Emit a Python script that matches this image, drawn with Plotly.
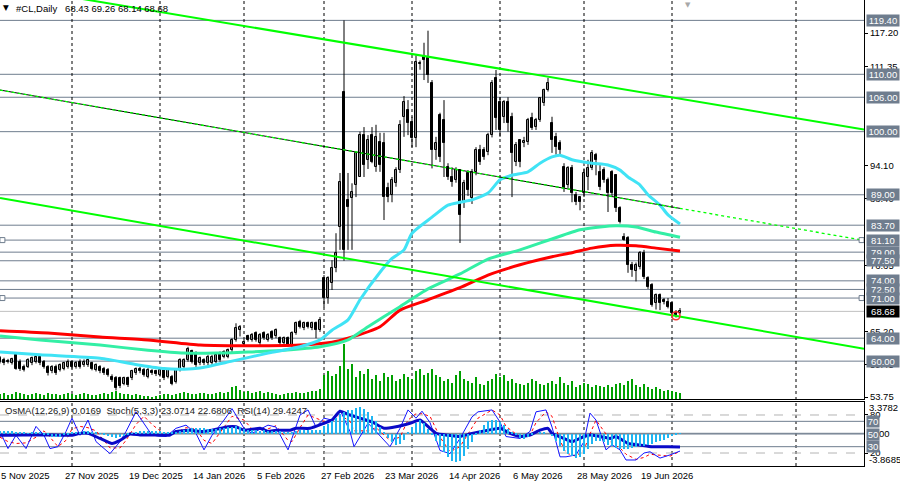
import plotly.graph_objects as go

# ---------------- data ----------------
date_labels = ["5 Nov 2025", "27 Nov 2025", "19 Dec 2025", "14 Jan 2026", "5 Feb 2026",
               "27 Feb 2026", "23 Mar 2026", "14 Apr 2026", "6 May 2026", "28 May 2026", "19 Jun 2026"]
date_label_bars = [0, 16, 32, 48, 64, 80, 96, 112, 128, 144, 160]
month_start_bars = [18, 40, 61, 81, 103, 125, 146, 168, 199]

opens = [60.5, 60.2, 60.0, 59.7, 61.1, 59.9, 59.0, 59.0, 59.6, 59.9,
         60.8, 59.9, 59.0, 58.2, 59.0, 58.5, 58.7, 59.0, 59.9, 59.0,
         59.9, 59.3, 59.3, 59.6, 58.5, 59.0, 58.7, 58.5, 57.3, 57.0,
         57.0, 56.1, 57.0, 57.0, 57.9, 58.7, 58.5, 57.3, 58.3, 58.2,
         57.6, 58.5, 57.3, 57.3, 56.4, 58.5, 59.0, 60.2, 61.7, 61.4,
         59.6, 60.2, 59.6, 59.6, 59.9, 61.4, 60.8, 60.8, 61.9, 63.7,
         65.4, 63.0, 64.3, 63.7, 64.9, 63.1, 64.9, 63.7, 65.1, 64.3,
         64.0, 63.1, 64.0, 62.8, 64.9, 66.9, 65.7, 66.6, 65.7, 66.6,
         65.4, 74.5, 71.0, 73.6, 76.2, 83.4, 106.9, 88.1, 88.4, 90.7,
         92.1, 99.4, 95.1, 99.4, 93.9, 98.2, 98.0, 90.2, 89.0, 91.1,
         93.3, 102.6, 103.8, 101.7, 98.9, 111.8, 113.0, 112.8, 108.5, 96.8,
         102.9, 102.0, 93.8, 92.1, 91.6, 93.3, 87.7, 92.8, 88.4, 93.0,
         96.8, 96.8, 96.5, 99.4, 109.4, 105.2, 102.6, 105.2, 102.6, 94.7,
         98.5, 98.1, 98.2, 102.4, 100.8, 102.0, 105.0, 107.3, 101.5, 99.1,
         98.0, 93.8, 90.7, 93.6, 89.0, 88.6, 89.3, 92.1, 93.6, 95.9,
         93.0, 93.3, 91.6, 93.0, 92.4, 86.7, 81.6, 81.5, 76.8, 75.7,
         76.4, 78.9, 74.5, 73.3, 70.1, 71.5, 70.6, 70.3, 70.1, 68.4, 68.43]
highs = [60.9, 60.6, 60.4, 60.6, 61.5, 60.3, 59.4, 60.5, 60.8, 61.4,
         61.1, 60.2, 59.3, 59.3, 59.4, 59.6, 59.9, 60.3, 60.2, 60.0,
         60.3, 60.3, 60.5, 59.9, 59.6, 59.3, 59.0, 58.8, 57.7, 57.4,
         57.3, 57.3, 57.3, 58.5, 58.9, 59.0, 58.8, 58.8, 58.6, 58.5,
         58.8, 58.8, 58.8, 57.6, 58.8, 60.5, 60.5, 62.5, 62.0, 61.7,
         60.8, 60.5, 61.1, 61.1, 61.4, 61.7, 61.9, 62.2, 64.0, 66.6,
         66.3, 63.7, 64.6, 64.9, 65.2, 64.9, 65.2, 64.9, 65.4, 65.7,
         64.3, 64.3, 64.3, 65.2, 66.9, 67.2, 66.9, 66.9, 66.9, 66.9,
         67.7, 75.0, 74.8, 77.6, 82.3, 92.8, 119.4, 92.8, 91.0, 96.5,
         100.0, 100.8, 99.4, 100.8, 101.2, 99.8, 99.8, 91.1, 92.1, 93.8,
         102.0, 106.2, 105.5, 102.6, 113.3, 112.4, 115.5, 117.6, 109.0, 99.1,
         103.3, 105.5, 94.5, 93.8, 93.8, 93.3, 91.6, 93.3, 93.5, 97.3,
         97.7, 97.3, 99.8, 109.0, 110.75, 106.0, 105.5, 106.0, 103.3, 98.2,
         98.5, 99.1, 102.4, 103.3, 102.4, 106.0, 107.5, 109.4, 102.6, 99.8,
         98.5, 94.5, 94.0, 94.2, 89.5, 88.6, 93.6, 95.1, 96.8, 96.3,
         94.5, 93.8, 92.0, 93.3, 92.6, 87.0, 82.3, 81.8, 77.3, 77.2,
         79.2, 79.4, 74.8, 73.6, 71.8, 71.8, 71.0, 71.0, 70.2, 68.9, 69.26]
lows = [59.6, 59.3, 59.6, 59.4, 58.5, 58.3, 58.2, 58.8, 59.3, 59.6,
        59.3, 58.7, 57.5, 57.9, 57.6, 58.2, 58.4, 58.7, 58.7, 58.7,
        58.7, 59.0, 59.0, 58.4, 58.2, 57.9, 57.6, 57.3, 56.4, 54.9,
        55.3, 55.8, 55.5, 56.7, 57.6, 57.9, 57.3, 57.0, 57.6, 57.4,
        57.3, 56.7, 57.0, 55.8, 56.1, 58.2, 58.7, 59.9, 59.6, 59.0,
        59.3, 59.3, 59.3, 59.3, 59.6, 59.9, 60.5, 60.5, 61.6, 63.4,
        64.3, 62.5, 63.4, 63.4, 63.4, 62.8, 63.7, 63.4, 63.7, 64.0,
        62.8, 62.8, 62.5, 62.5, 64.6, 65.7, 65.4, 65.7, 65.4, 64.0,
        65.1, 69.4, 70.0, 72.4, 75.5, 79.4, 77.5, 79.4, 79.4, 88.6,
        92.1, 92.1, 93.5, 94.5, 93.0, 93.0, 84.6, 87.7, 87.7, 90.4,
        92.8, 99.1, 99.4, 97.3, 97.3, 110.8, 109.0, 108.5, 93.6, 95.1,
        94.7, 92.1, 91.6, 90.4, 91.1, 80.6, 86.7, 88.8, 87.4, 92.4,
        94.2, 95.1, 95.9, 99.0, 100.3, 99.1, 101.5, 100.0, 88.6, 94.0,
        93.8, 97.3, 97.7, 100.3, 100.3, 101.7, 104.5, 107.0, 96.3, 96.0,
        95.9, 89.5, 90.2, 87.7, 87.2, 86.3, 88.6, 89.8, 93.3, 92.4,
        89.8, 91.1, 86.0, 88.8, 86.0, 84.0, 81.0, 75.4, 74.7, 73.9,
        76.0, 74.3, 72.6, 69.5, 69.0, 68.9, 69.9, 69.2, 67.5, 67.6, 68.14]
closes = [59.9, 59.6, 59.9, 60.3, 58.7, 58.6, 58.5, 60.2, 60.5, 60.8,
          59.6, 59.0, 57.9, 59.0, 57.9, 59.3, 59.6, 59.9, 59.0, 59.7,
          59.0, 59.9, 60.2, 58.7, 59.3, 58.2, 57.9, 57.6, 56.7, 55.3,
          55.6, 57.0, 55.8, 58.2, 58.6, 58.2, 57.6, 58.5, 57.9, 57.7,
          58.5, 57.0, 58.5, 56.1, 58.5, 60.2, 60.2, 62.2, 59.9, 59.3,
          60.5, 59.6, 60.8, 60.8, 61.1, 60.2, 61.6, 61.9, 63.7, 65.7,
          66.0, 63.4, 63.7, 64.6, 63.7, 64.6, 64.0, 64.6, 64.0, 65.4,
          63.1, 64.0, 62.8, 64.9, 66.6, 66.0, 66.6, 66.0, 66.6, 65.4,
          67.2, 71.0, 74.5, 76.2, 78.9, 91.2, 79.4, 86.9, 89.5, 96.3,
          99.4, 94.2, 98.6, 94.7, 99.1, 94.2, 88.6, 88.6, 91.6, 93.3,
          101.2, 105.2, 101.5, 98.9, 112.1, 112.0, 112.5, 109.9, 96.8, 98.0,
          95.6, 98.0, 92.1, 91.2, 93.3, 85.5, 91.1, 89.8, 93.0, 96.8,
          94.7, 95.6, 99.4, 108.5, 102.4, 100.3, 105.2, 101.5, 96.3, 97.7,
          94.7, 98.3, 102.0, 100.6, 102.0, 105.9, 107.3, 108.5, 98.5, 97.3,
          96.8, 90.2, 93.6, 89.3, 87.7, 87.7, 92.8, 93.6, 96.3, 95.1,
          90.4, 91.6, 89.3, 89.3, 86.7, 84.3, 81.2, 76.8, 75.9, 76.8,
          78.9, 74.7, 72.9, 69.8, 71.5, 70.1, 70.3, 69.4, 68.4, 68.0, 68.68]
volume_k = [25, 30, 20, 25, 35, 30, 25, 20, 25, 30, 25, 20, 30, 25, 25, 20, 25, 30,
            25, 20, 25, 30, 25, 20, 20, 25, 30, 25, 35, 40, 30, 25, 25, 20, 25, 20, 15, 15, 10, 15, 20,
            25, 25, 20, 25, 30, 35, 30, 25, 25, 30, 30, 25, 25, 30, 35, 30, 35,
            60, 65, 45, 35, 40, 30, 35, 40, 30, 35, 30, 25, 20, 25, 30, 30, 35, 30, 30, 35, 40, 40, 50,
            120, 140, 115, 125, 165, 275, 150, 175, 110, 140, 125, 150, 100, 120, 90, 130, 110, 120, 90, 100,
            125, 110, 100, 140, 150, 120, 130, 150, 120, 110, 90, 100, 80, 120, 140, 100, 90, 80, 110, 75, 70, 90, 100, 125, 110,
            120, 90, 100, 80, 75, 70, 80, 100, 90, 75, 70, 80, 90, 75, 110, 80, 70, 90, 60, 70, 80, 75, 60, 70, 65,
            60, 70, 60, 75, 80, 70, 90, 100, 70, 60, 75, 60, 50, 60, 50, 40, 45, 40, 35, 30]

ma_fast_bars = [0, 10, 25, 35, 41, 46, 50, 58, 67, 75, 80, 83, 87, 90, 95, 98, 101, 103, 108, 112,
                115, 118, 122, 125, 128, 132, 135, 138, 140, 143, 148, 152, 155, 157, 160, 162, 165, 167, 170]
ma_fast = [61.6, 61.1, 60.5, 59.3, 58.7, 58.6, 58.8, 60.0, 61.4, 62.5, 63.7, 65.4, 67.2, 70.7, 75.5, 77.9, 79.4, 82.3, 85.1, 87.2,
           87.7, 88.1, 89.3, 91.6, 92.4, 93.0, 94.5, 95.6, 95.9, 95.1, 94.5, 94.2, 93.3, 92.1, 90.7, 89.0, 87.2, 85.5, 83.9]
ma_mid_bars = [0, 10, 25, 37, 46, 54, 62, 71, 80, 87, 92, 100, 107, 115, 122, 130, 138, 145, 150, 154, 159, 164, 170]
ma_mid = [64.4, 63.7, 62.8, 61.9, 61.4, 61.4, 61.6, 61.9, 62.5, 63.7, 66.0, 69.5, 72.6, 75.2, 77.8, 79.4, 81.3, 82.9, 83.4, 83.6, 83.4, 82.5, 81.6]
ma_slow_bars = [0, 12, 25, 37, 50, 58, 67, 75, 83, 87, 95, 100, 107, 115, 122, 130, 138, 143, 148, 154, 159, 164, 170]
ma_slow = [65.3, 64.9, 64.2, 63.7, 62.8, 62.7, 62.7, 62.8, 63.3, 64.0, 66.0, 68.9, 70.7, 72.8, 75.0, 76.8, 78.2, 78.9, 79.7, 80.2, 80.1, 79.7, 79.2]

upper_channel_bars = [0, 216]
upper_channel = [125.53, 100.38]
mid_line_bars = [0, 216]
mid_line = [107.26, 81.05]
mid_solid_bars = [0, 170]
mid_solid = [107.26, 86.63]
lower_channel_bars = [0, 216]
lower_channel = [88.44, 62.16]

level_prices = [119.40, 110.00, 106.00, 100.00, 89.00, 83.70, 81.10, 79.00, 77.50, 74.00, 72.50, 71.00, 64.00, 60.00]
marked_levels = [81.10, 71.00]
bid_price = 68.68
price_ticks = [117.20, 111.35, 94.10, 88.40, 76.65, 65.20, 59.45, 53.75]

osma = [0.3, 0.35, 0.35, 0.3, 0.25, 0.2,
        0.1, 0.05, 0.1, 0.15, 0.1,
        -0.1, -0.2, -0.35, -0.4, -0.35, -0.2, -0.05,
        0.1, 0.2, 0.25, 0.3, 0.3, 0.25, 0.2,
        0.05, -0.1, -0.25, -0.35, -0.45, -0.4, -0.3, -0.15,
        0.05, 0.2, 0.3, 0.35, 0.35, 0.35, 0.3, 0.3, 0.25, 0.15,
        0.1, 0.15,
        0.3, 0.45, 0.6, 0.7, 0.75, 0.75, 0.65, 0.55, 0.55, 0.6, 0.7, 0.75, 0.8,
        0.85, 0.9, 0.8, 0.6, 0.45, 0.4, 0.4, 0.35, 0.4, 0.35, 0.3, 0.3, 0.3, 0.25, 0.2, 0.25, 0.35, 0.45, 0.5, 0.5, 0.5, 0.45, 0.5,
        0.9, 1.2, 1.5, 1.9, 2.4, 2.6, 2.8, 2.9, 3.1, 3.2, 3.0, 2.6, 2.1, 1.5,
        0.8, 0.1, -0.5, -1.0, -1.3, -1.2, -0.7, 0.1,
        0.8, 1.3, 1.6, 1.3, 0.6,
        -0.2, -0.8, -1.5, -2.2, -2.8, -3.2, -3.4, -3.2, -2.6, -1.8, -1.0,
        -0.2, 0.5, 1.0, 1.5, 1.7, 1.6, 1.4, 1.0, 0.6, 0.2,
        -0.2, -0.5, -0.6, -0.4, -0.2, 0.0, 0.1, 0.1, 0.0, -0.3,
        -0.9, -1.5, -2.0, -2.4, -2.7, -2.9, -2.8, -2.4, -1.8,
        -1.2, -0.9, -0.8, -1.0, -1.3,
        -1.5, -1.7, -1.8, -1.8, -1.8, -1.7, -1.6, -1.5, -1.4, -1.3, -1.2, -1.0, -0.9, -0.7, -0.5, -0.3, -0.15, 0.0169]

stoch_bars = [0, 2, 4, 6.5, 9, 11, 12.5, 14.5, 16.5, 18, 20, 22, 24, 27.5, 30, 31.5, 34, 36, 38, 41.5,
              44, 46.5, 49, 51, 53, 56, 58, 61, 63, 67, 69, 72, 73, 75, 77, 79, 81, 83, 85, 87.5,
              88.5, 92, 94, 97.5, 100, 102, 104, 105.5, 107.5, 110, 112.5, 115, 118, 119.5, 123, 125, 126.5, 130, 132.5, 134,
              136.5, 138, 140, 141.5, 144, 146, 147.5, 149, 151.5, 153, 155, 156.5, 159, 161, 162.5, 165, 167.5, 170]
stoch_main = [54, 27, 48, 27, 62, 48, 27, 30, 54, 75, 48, 72, 38, 19, 38, 54, 85, 67, 48, 46,
              59, 64, 51, 25, 48, 72, 90, 59, 51, 64, 61, 25, 43, 80, 88, 61, 75, 72, 88, 54,
              30, 67, 54, 30, 59, 88, 75, 86, 68, 24, 19, 43, 77, 85, 88, 69, 46, 43, 54, 85,
              88, 61, 14, 14, 17, 38, 83, 72, 25, 33, 25, 9, 9, 20, 22, 12, 17, 23.07]
stoch_signal = [45, 38, 35, 36, 45, 55, 45, 30, 40, 58, 62, 60, 55, 28, 28, 40, 65, 78, 65, 48,
                52, 60, 58, 40, 35, 60, 78, 72, 58, 58, 63, 40, 38, 60, 80, 75, 70, 72, 80, 70,
                55, 55, 60, 40, 45, 72, 82, 82, 78, 45, 22, 30, 60, 75, 88, 80, 62, 45, 48, 68,
                85, 78, 40, 20, 15, 25, 50, 72, 50, 35, 28, 18, 10, 13, 18, 17, 15, 22.68]
rsi_bars = [0, 3, 8, 12, 15, 18, 20, 22, 25, 28, 30, 32.5, 35, 38, 40, 42.5, 44, 47.5, 50, 53,
            57, 59, 61, 65, 67, 69, 72.5, 74, 77.5, 81, 83, 85, 87.5, 90, 93, 96, 99, 102.5, 105, 107.5,
            109, 112, 115, 118, 122, 125, 127.5, 130, 132.5, 135, 137, 138, 141, 143, 146, 147.5, 150, 152.5, 154, 157,
            160, 163, 167, 170]
rsi = [48, 48, 48.5, 48.5, 48, 48, 51, 51, 43, 35, 40, 50, 48.5, 48.5, 48, 48.5, 54, 56, 54, 56,
       61.5, 61.5, 56, 59, 54, 56, 56, 59, 59, 67, 72, 86, 80, 75, 69, 59, 61.5, 67, 72, 59,
       51, 48, 46, 51, 56, 59, 51, 46, 48.5, 56, 59, 51, 43, 38, 46, 48.5, 46, 43, 46, 35,
       32.6, 30, 30, 29.42]
rsi_levels = [70, 50, 30]
rsi_dashed_levels = [80, 20]

# ---------------- styling ----------------
FONT = "Liberation Sans"
FS = 9.5
LVL = "#6F7D8E"
bars = list(range(len(closes)))

fig = go.Figure()

# volumes (main window bottom)
fig.add_trace(go.Bar(x=bars, y=volume_k, xaxis="x", yaxis="y3", width=0.3,
                     marker=dict(color="#00A000", line=dict(width=0)), hoverinfo="skip"))

# wicks
wx, wy = [], []
for i in bars:
    wx += [i, i, None]
    wy += [lows[i], highs[i], None]
fig.add_trace(go.Scatter(x=wx, y=wy, mode="lines", line=dict(color="black", width=1),
                         xaxis="x", yaxis="y", hoverinfo="skip"))

bull = [i for i in bars if closes[i] >= opens[i]]
bear = [i for i in bars if closes[i] < opens[i]]
fig.add_trace(go.Bar(x=bull, y=[closes[i] - opens[i] for i in bull], base=[opens[i] for i in bull],
                     width=0.5, xaxis="x", yaxis="y",
                     marker=dict(color="white", line=dict(color="black", width=1))))
fig.add_trace(go.Bar(x=bear, y=[opens[i] - closes[i] for i in bear], base=[closes[i] for i in bear],
                     width=0.5, xaxis="x", yaxis="y",
                     marker=dict(color="black", line=dict(color="black", width=1))))

# moving averages
for xs, ys, col in [(ma_slow_bars, ma_slow, "#FF0000"), (ma_mid_bars, ma_mid, "#33EFA5"),
                    (ma_fast_bars, ma_fast, "#40E3F5")]:
    fig.add_trace(go.Scatter(x=xs, y=ys, mode="lines", xaxis="x", yaxis="y",
                             line=dict(color=col, width=3, shape="spline", smoothing=0.6)))

# trend lines
fig.add_trace(go.Scatter(x=upper_channel_bars, y=upper_channel, mode="lines", xaxis="x", yaxis="y",
                         line=dict(color="#00FF00", width=2)))
fig.add_trace(go.Scatter(x=lower_channel_bars, y=lower_channel, mode="lines", xaxis="x", yaxis="y",
                         line=dict(color="#00FF00", width=2)))
fig.add_trace(go.Scatter(x=mid_solid_bars, y=mid_solid, mode="lines", xaxis="x", yaxis="y",
                         line=dict(color="black", width=1)))
fig.add_trace(go.Scatter(x=mid_line_bars, y=mid_line, mode="lines", xaxis="x", yaxis="y",
                         line=dict(color="#00FF00", width=1.3, dash="dot")))

# cursor ring and level markers
fig.add_trace(go.Scatter(x=[169], y=[67.9], mode="markers", xaxis="x", yaxis="y",
                         marker=dict(symbol="circle-open", size=8, color="#FF3030", line=dict(width=1.5))))
fig.add_trace(go.Scatter(x=[0.6] * len(marked_levels) + [215.4] * len(marked_levels),
                         y=marked_levels + marked_levels, mode="markers", xaxis="x", yaxis="y",
                         cliponaxis=False,
                         marker=dict(symbol="square", size=5, color="white", line=dict(color=LVL, width=1))))

# oscillators
fig.add_trace(go.Bar(x=bars, y=osma, xaxis="x2", yaxis="y4", width=0.55,
                     marker=dict(color="#1EB6F2", line=dict(width=0))))
fig.add_trace(go.Scatter(x=stoch_bars, y=stoch_signal, mode="lines", xaxis="x2", yaxis="y2",
                         line=dict(color="#FF0000", width=1, dash="dot")))
fig.add_trace(go.Scatter(x=stoch_bars, y=stoch_main, mode="lines", xaxis="x2", yaxis="y2",
                         line=dict(color="#1414FF", width=1)))
fig.add_trace(go.Scatter(x=rsi_bars, y=rsi, mode="lines", xaxis="x2", yaxis="y2",
                         line=dict(color="#0A0AC8", width=3, shape="spline", smoothing=0.4)))

# ---------------- shapes ----------------
shapes = []
for p in level_prices:
    shapes.append(dict(type="line", xref="paper", x0=0, x1=1, yref="y", y0=p, y1=p,
                       line=dict(color=LVL, width=1), layer="below"))
shapes.append(dict(type="line", xref="paper", x0=0, x1=1, yref="y", y0=bid_price, y1=bid_price,
                   line=dict(color="#C0C0C0", width=1), layer="below"))
for s in month_start_bars:
    shapes.append(dict(type="line", xref="x", x0=s, x1=s, yref="paper", y0=0, y1=1,
                       line=dict(color="black", width=1, dash="dot"), layer="below"))
for lv in rsi_levels:
    shapes.append(dict(type="line", xref="paper", x0=0, x1=1, yref="y2", y0=lv, y1=lv,
                       line=dict(color=LVL, width=1), layer="below"))
for lv in rsi_dashed_levels:
    shapes.append(dict(type="line", xref="paper", x0=0, x1=1, yref="y2", y0=lv, y1=lv,
                       line=dict(color="#B4B4B4", width=1, dash="dash"), layer="below"))
shapes.append(dict(type="line", xref="paper", x0=0, x1=1, yref="y4", y0=0, y1=0,
                   line=dict(color=LVL, width=1), layer="below"))

# ---------------- annotations ----------------
ann = []
ann.append(dict(xref="paper", yref="paper", x=0, y=1, xanchor="left", yanchor="top", xshift=1, yshift=-1,
                text="▼", showarrow=False, font=dict(family="DejaVu Sans", size=7.5, color="black")))
ann.append(dict(xref="paper", yref="paper", x=0, y=1, xanchor="left", yanchor="top", xshift=14, yshift=-1,
                text="#CL,Daily   68.43 69.26 68.14 68.68", showarrow=False,
                font=dict(family=FONT, size=FS, color="black")))
ann.append(dict(xref="x", yref="paper", x=172, y=1, xanchor="center", yanchor="top", yshift=1,
                text="▼", showarrow=False, font=dict(family="DejaVu Sans", size=7, color="#A8A8A8")))
ann.append(dict(xref="paper", yref="paper", x=0, y=0.1384, xanchor="left", yanchor="top", xshift=3, yshift=-1.5,
                text="OsMA(12,26,9) 0.0169  Stoch(5,3,3) 23.0714 22.6806  RSI(14) 29.4247", showarrow=False,
                font=dict(family=FONT, size=FS, color="#202020")))
for b, t in zip(date_label_bars, date_labels):
    ann.append(dict(xref="x", yref="paper", x=b, y=0, xanchor="left", yanchor="top", xshift=-1, yshift=-2,
                    text=t, showarrow=False, font=dict(family=FONT, size=FS, color="black")))
for p in level_prices:
    ann.append(dict(xref="paper", yref="y", x=1, y=p, xanchor="left", yanchor="middle", xshift=2,
                    text=f"{p:.2f}", showarrow=False, bgcolor=LVL, width=32, height=11, borderpad=0,
                    font=dict(family=FONT, size=FS, color="white")))
ann.append(dict(xref="paper", yref="y", x=1, y=bid_price, xanchor="left", yanchor="middle", xshift=2,
                text=f"{bid_price:.2f}", showarrow=False, bgcolor="black", width=32, height=11, borderpad=0,
                font=dict(family=FONT, size=FS, color="white")))
# oscillator scale texts
for txt, yp in [("3.3782", 0.1266), ("-3.8685", 0.0129)]:
    ann.append(dict(xref="paper", yref="paper", x=1, y=yp, xanchor="left", yanchor="middle", xshift=3,
                    text=txt, showarrow=False, font=dict(family=FONT, size=FS, color="black")))
ann.append(dict(xref="paper", yref="y4", x=1, y=0, xanchor="left", yanchor="middle", xshift=5,
                text="0.00", showarrow=False, font=dict(family=FONT, size=FS, color="black")))
for lv in rsi_levels:
    ann.append(dict(xref="paper", yref="y2", x=1, y=lv, xanchor="left", yanchor="middle", xshift=2,
                    text=str(lv), showarrow=False, bgcolor=LVL, width=12, height=11, borderpad=0,
                    font=dict(family=FONT, size=FS, color="white")))

axis_common = dict(showgrid=False, zeroline=False, fixedrange=True)
fig.update_layout(
    width=900, height=482,
    margin=dict(l=0, r=36, t=0, b=16),
    paper_bgcolor="white", plot_bgcolor="white",
    showlegend=False, barmode="overlay", bargap=0,
    font=dict(family=FONT, size=FS, color="black"),
    xaxis=dict(domain=[0, 1], range=[0, 216], anchor="y", showticklabels=False, ticks="",
               showline=True, linecolor="black", linewidth=1, **axis_common),
    xaxis2=dict(domain=[0, 1], range=[0, 216], anchor="y2", showticklabels=False, ticks="",
                showline=True, mirror=True, linecolor="black", linewidth=1, **axis_common),
    yaxis=dict(domain=[0.14378, 1], range=[53.403, 122.952], anchor="x", side="right",
               tickvals=price_ticks, ticktext=[f"{v:.2f}" for v in price_ticks],
               ticks="outside", ticklen=3, tickcolor="black",
               tickfont=dict(family=FONT, size=FS, color="black"),
               showline=True, linecolor="black", linewidth=1, **axis_common),
    yaxis3=dict(overlaying="y", range=[0, 1995], visible=False, anchor="x", **axis_common),
    yaxis2=dict(domain=[0, 0.1384], range=[-0.5, 101.3], anchor="x2", side="right",
                tickvals=rsi_dashed_levels, ticktext=[str(v) for v in rsi_dashed_levels],
                ticks="outside", ticklen=3, tickcolor="black",
                tickfont=dict(family=FONT, size=FS, color="black"),
                showline=True, linecolor="black", linewidth=1, **axis_common),
    yaxis4=dict(overlaying="y2", range=[-3.904, 3.797], visible=False, anchor="x2", **axis_common),
    shapes=shapes,
    annotations=ann,
)

fig.write_html("out.html", config={"displayModeBar": False})
